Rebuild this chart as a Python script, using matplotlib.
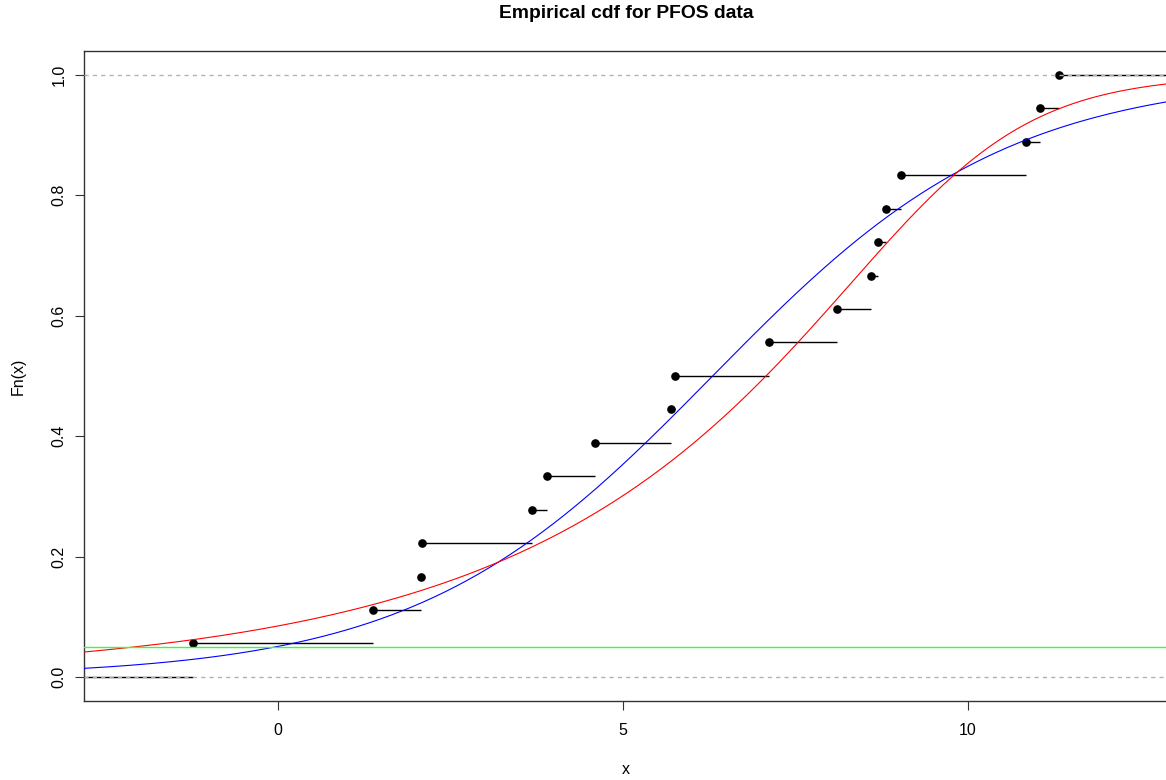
import numpy as np
import matplotlib
matplotlib.use("Agg")
import matplotlib.pyplot as plt

pfos = [-1.23, 1.38, 2.07, 2.09, 3.68, 3.90, 4.59, 5.70, 5.75, 7.12,
        8.10, 8.59, 8.70, 8.81, 9.03, 10.84, 11.04, 11.32]

# fitted cdfs laid over the ecdf
logis_loc, logis_scale = 6.3, 2.15                          # blue, logistic
glogis_loc, glogis_scale, glogis_shape = 9.70, 1.1, 0.28    # red, generalised logistic
ref_level = 0.05                                            # green line

x_ticks = [0, 5, 10]
y_ticks = [0.0, 0.2, 0.4, 0.6, 0.8, 1.0]

plt.rcParams['font.family'] = ['Liberation Sans', 'DejaVu Sans']
plt.rcParams['lines.scale_dashes'] = False

xs = np.sort(np.array(pfos))
n = len(xs)
Fn = np.arange(1, n + 1) / n

# same x range as R's plot.stepfun (+ 4% axis padding)
dr = max(0.08 * (xs[-1] - xs[0]), np.median(np.diff(xs)))
lo, hi = xs[0] - dr, xs[-1] + dr
pad = 0.04 * (hi - lo)
xlim = (lo - pad, hi + pad)

W, H = 1166, 780
fig = plt.figure(figsize=(W / 100, H / 100), dpi=100)
left_px, px_per_unit = 83.7, 69.0
ax = fig.add_axes([left_px / W, 79 / H, (xlim[1] - xlim[0]) * px_per_unit / W, 650.2 / H])
ax.set_xlim(xlim)
ax.set_ylim(-0.04, 1.04)

# steps
seg_l = np.concatenate([[xlim[0]], xs])
seg_r = np.concatenate([xs, [xlim[1]]])
seg_y = np.concatenate([[0.0], Fn])
ax.hlines(seg_y, seg_l, seg_r, colors='black', lw=1.0, zorder=2)
ax.plot(xs, Fn, 'o', color='black', ms=5.2, zorder=3)
ax.axhline(0, color='#b3b3b3', lw=1.0, dashes=(3, 3), zorder=4)
ax.axhline(1, color='#b3b3b3', lw=1.0, dashes=(3, 3), zorder=4)

# fitted curves
grid = np.linspace(xlim[0], xlim[1], 400)
blue = 1 / (1 + np.exp(-(grid - logis_loc) / logis_scale))
red = (1 + np.exp(-(grid - glogis_loc) / glogis_scale)) ** (-glogis_shape)
ax.plot(grid, blue, color='blue', lw=0.8, zorder=5)
ax.plot(grid, red, color='red', lw=0.8, zorder=5)
ax.axhline(ref_level, color='#33ff33', lw=1.0, zorder=5)

ax.set_xticks(x_ticks)
ax.set_yticks(y_ticks)
ax.set_xticklabels([str(t) for t in x_ticks])
ax.set_yticklabels(['%.1f' % t for t in y_ticks], rotation=90, va='center')
ax.tick_params(length=6.5, width=0.8, labelsize=11.5, color='#333333')
ax.tick_params(axis='x', pad=9)
ax.tick_params(axis='y', pad=6)
for s in ax.spines.values():
    s.set_color('#333333')
    s.set_linewidth(1.0)

fig.text(626 / W, 1 - 14 / H, 'Empirical cdf for PFOS data', ha='center', va='center',
         fontsize=13.9, fontweight='bold')
fig.text(626 / W, 1 - 770 / H, 'x', ha='center', va='center', fontsize=11.5)
fig.text(18 / W, 1 - 376 / H, 'Fn(x)', ha='center', va='center', rotation=90, fontsize=11.5)

fig.savefig('out.png', dpi=100)
